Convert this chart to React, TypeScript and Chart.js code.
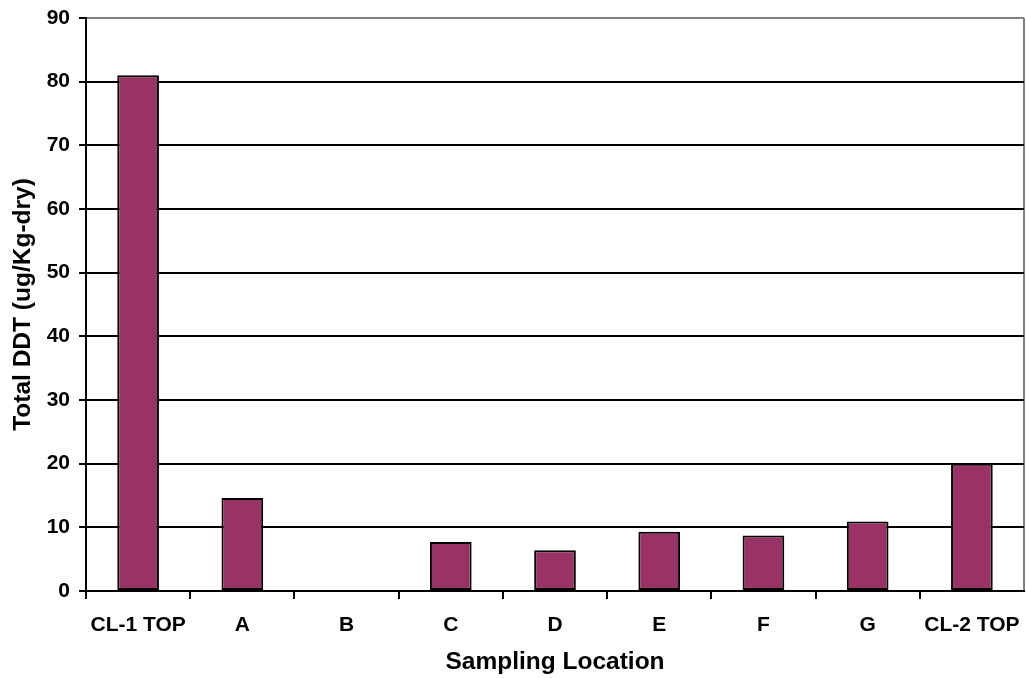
import React, { useEffect, useRef } from "react";
import { Chart, registerables } from "chart.js";

Chart.register(...registerables);

const categories = ["CL-1 TOP", "A", "B", "C", "D", "E", "F", "G", "CL-2 TOP"];
const totalDdt = [81, 14.6, 0, 7.7, 6.4, 9.3, 8.7, 10.9, 20];
const yTicks = [0, 10, 20, 30, 40, 50, 60, 70, 80, 90];

const FONT = "'Liberation Sans', Arial, sans-serif";

// the closing grid line of an offset category axis has no tick context
const isOuterEdge = (ctx: any) => ctx.index === undefined || ctx.index >= categories.length;

export default function App() {
  const canvasRef = useRef<HTMLCanvasElement | null>(null);

  useEffect(() => {
    document.body.style.margin = "0";
    const canvas = canvasRef.current;
    if (!canvas) return;
    const chart = new Chart(canvas, {
      type: "bar",
      data: {
        labels: categories,
        datasets: [
          {
            data: totalDdt,
            backgroundColor: "#993366",
            borderColor: "#000000",
            borderWidth: 2,
            borderSkipped: false,
            categoryPercentage: 0.4,
            barPercentage: 1,
          },
        ],
      },
      options: {
        responsive: false,
        animation: false,
        devicePixelRatio: 1,
        layout: { padding: { top: 18, right: 2, left: 0, bottom: 0 } },
        plugins: {
          legend: { display: false },
          tooltip: { enabled: false },
        },
        scales: {
          x: {
            offset: true,
            afterFit: (scale: any) => {
              scale.height = 87;
              scale.paddingLeft = 0;
              scale.paddingRight = 0;
            },
            grid: {
              offset: true,
              drawOnChartArea: true,
              lineWidth: 2,
              color: (ctx: any) => (isOuterEdge(ctx) ? "#808080" : "rgba(0,0,0,0)"),
              tickColor: (ctx: any) => (isOuterEdge(ctx) ? "rgba(0,0,0,0)" : "#000000"),
              tickLength: 8,
            },
            border: { display: true, color: "#000000", width: 2 },
            ticks: {
              color: "#000000",
              font: { family: FONT, size: 21, weight: "bold" },
              maxRotation: 0,
              autoSkip: false,
              padding: 14,
            },
            title: {
              display: true,
              text: "Sampling Location",
              color: "#000000",
              font: { family: FONT, size: 24.5, weight: "bold" },
              padding: { top: 8, bottom: 1 },
            },
          },
          y: {
            min: 0,
            max: 90,
            afterFit: (scale: any) => {
              scale.width = 86;
              scale.paddingTop = 0;
              scale.paddingBottom = 0;
            },
            afterBuildTicks: (scale: any) => {
              scale.ticks = yTicks.map((v) => ({ value: v }));
            },
            grid: {
              lineWidth: 2,
              color: (ctx: any) => (ctx.tick && ctx.tick.value === 90 ? "#808080" : "#000000"),
              tickColor: "#000000",
              tickLength: 7,
            },
            border: { display: true, color: "#000000", width: 2 },
            ticks: {
              color: "#000000",
              font: { family: FONT, size: 21, weight: "bold" },
              padding: 9,
            },
            title: {
              display: true,
              text: "Total DDT (ug/Kg-dry)",
              color: "#000000",
              font: { family: FONT, size: 24.5, weight: "bold" },
              padding: { top: 9, bottom: 0 },
            },
          },
        },
      },
    });
    return () => chart.destroy();
  }, []);

  return (
    <div style={{ position: "absolute", left: 0, top: 0, width: 1026, height: 678, background: "#ffffff" }}>
      <canvas ref={canvasRef} width={1026} height={678} style={{ display: "block" }} />
    </div>
  );
}
